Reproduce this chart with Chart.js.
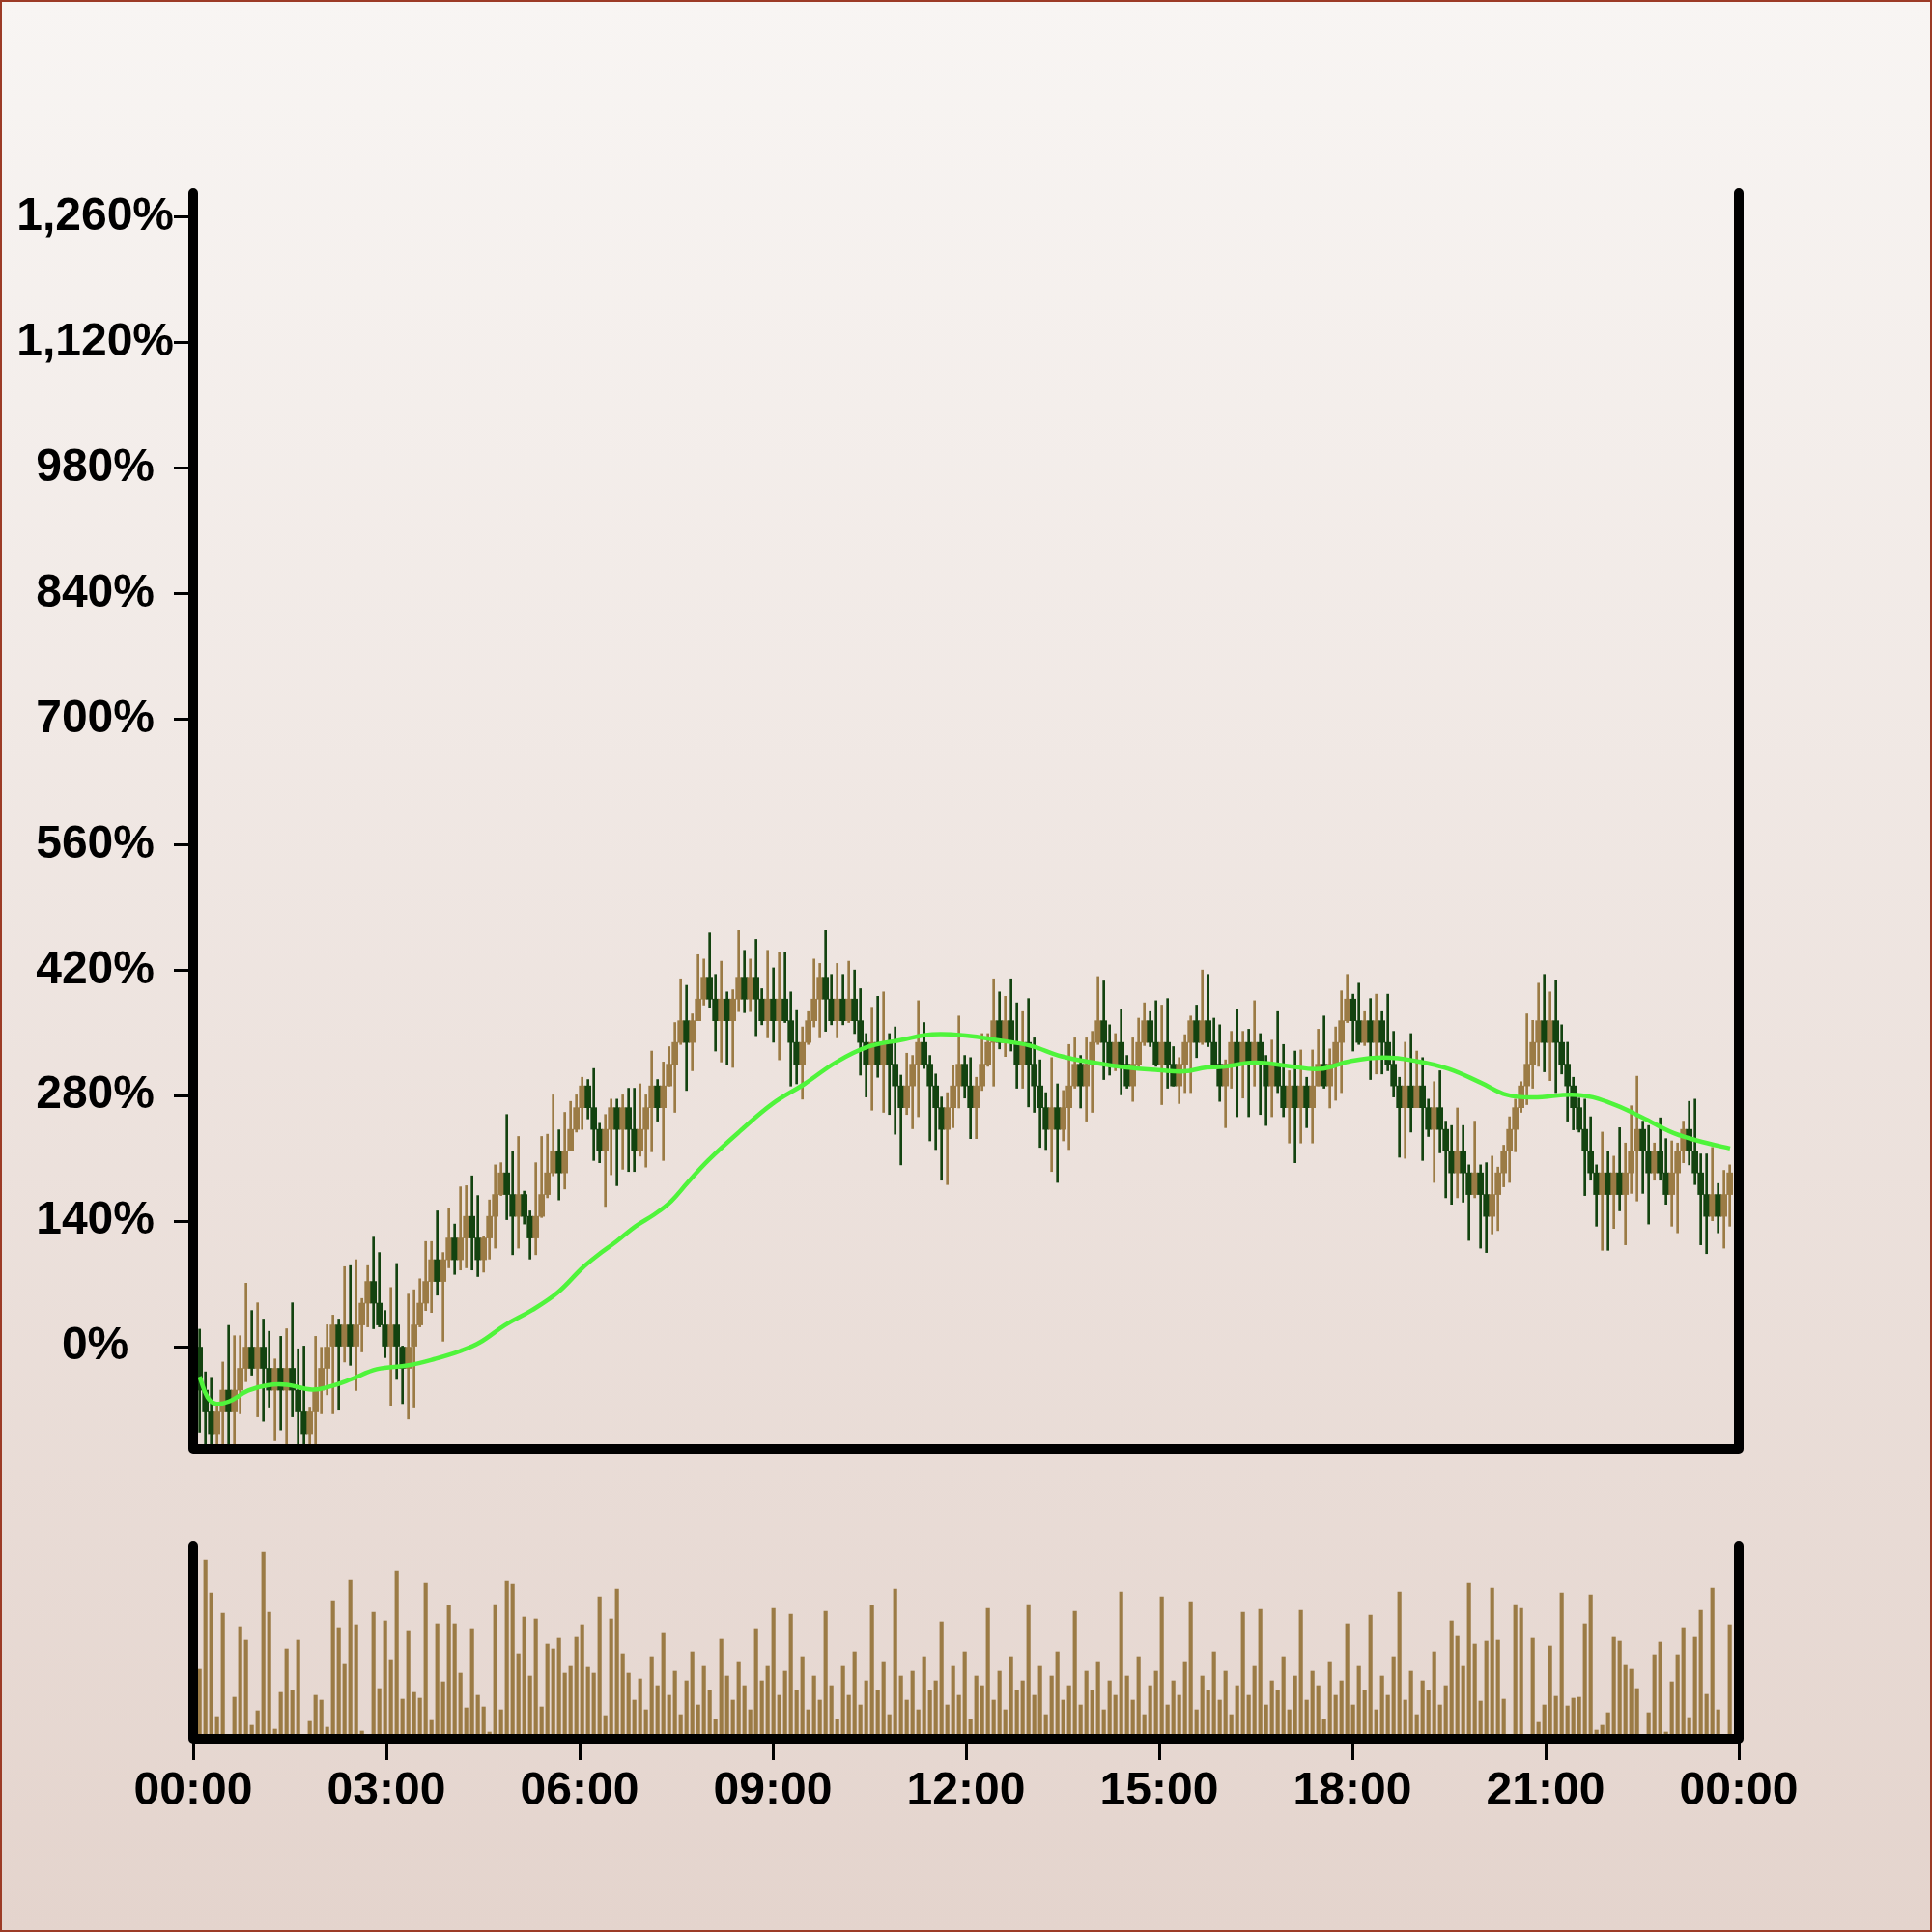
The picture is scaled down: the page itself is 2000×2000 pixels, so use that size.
<!DOCTYPE html>
<html>
<head>
<meta charset="utf-8">
<script src="https://cdn.jsdelivr.net/npm/chart.js@4.4.1/dist/chart.umd.min.js"></script>
<style>
  html, body { margin: 0; padding: 0; }
  #page {
    position: relative; width: 2000px; height: 2000px; overflow: hidden;
    background: linear-gradient(to bottom, #f8f5f3 0%, #e4d4cd 100%);
  }
  #edge {
    position: absolute; left: 0; top: 0; width: 2000px; height: 2000px;
    box-sizing: border-box; border: 2px solid #9c3b26; pointer-events: none;
  }
  #price { position: absolute; left: 0; top: 0; }
  #volume { position: absolute; left: 0; top: 1560px; }
</style>
</head>
<body>
<div id="page">
  <canvas id="price" width="2000" height="1560"></canvas>
  <canvas id="volume" width="2000" height="440"></canvas>
  <div id="edge"></div>
</div>
<script>
// Intraday candles (percent change from the opening price), one bar every 5.4 minutes
const opens = [0,-48.5,-72.7,-97.0,-72.7,-48.5,-72.7,-48.5,-24.2,0,
-24.2,0,-24.2,-48.5,-24.2,-48.5,-24.2,-48.5,-72.7,-97.0,
-72.7,-48.5,-24.2,0,24.2,0,24.2,0,24.2,48.5,
72.7,48.5,24.2,0,24.2,0,-24.2,0,24.2,48.5,
72.7,97.0,72.7,97.0,121.2,97.0,121.2,145.4,121.2,97.0,
121.2,145.4,169.7,193.9,169.7,145.4,169.7,145.4,121.2,145.4,
169.7,193.9,218.2,193.9,218.2,242.4,266.6,290.9,266.6,242.4,
218.2,242.4,266.6,242.4,266.6,242.4,218.2,242.4,266.6,290.9,
266.6,290.9,315.1,339.4,363.6,339.4,363.6,387.8,412.1,387.8,
363.6,387.8,363.6,387.8,412.1,387.8,412.1,387.8,363.6,387.8,
363.6,387.8,363.6,339.4,315.1,339.4,363.6,387.8,412.1,387.8,
363.6,387.8,363.6,387.8,363.6,339.4,315.1,339.4,315.1,339.4,
315.1,290.9,266.6,290.9,315.1,339.4,315.1,290.9,266.6,242.4,
266.6,290.9,315.1,290.9,266.6,290.9,315.1,339.4,363.6,339.4,
363.6,339.4,315.1,339.4,315.1,290.9,266.6,242.4,266.6,242.4,
266.6,290.9,315.1,290.9,315.1,339.4,363.6,339.4,315.1,339.4,
315.1,290.9,315.1,339.4,363.6,339.4,315.1,339.4,315.1,290.9,
315.1,339.4,363.6,339.4,363.6,339.4,315.1,290.9,315.1,339.4,
315.1,339.4,315.1,339.4,315.1,290.9,315.1,290.9,266.6,290.9,
266.6,290.9,266.6,290.9,315.1,290.9,315.1,339.4,363.6,387.8,
363.6,339.4,363.6,339.4,363.6,339.4,315.1,290.9,266.6,290.9,
266.6,290.9,266.6,242.4,266.6,242.4,218.2,193.9,218.2,193.9,
169.7,193.9,169.7,145.4,169.7,193.9,218.2,242.4,266.6,290.9,
315.1,339.4,363.6,339.4,363.6,339.4,315.1,290.9,266.6,242.4,
218.2,193.9,169.7,193.9,169.7,193.9,169.7,193.9,218.2,242.4,
218.2,193.9,218.2,193.9,169.7,193.9,218.2,242.4,218.2,193.9,
169.7,145.4,169.7,145.4,169.7];

const closes = [-48.5,-72.7,-97.0,-72.7,-48.5,-72.7,-48.5,-24.2,0,-24.2,
0,-24.2,-48.5,-24.2,-48.5,-24.2,-48.5,-72.7,-97.0,-72.7,
-48.5,-24.2,0,24.2,0,24.2,0,24.2,48.5,72.7,
48.5,24.2,0,24.2,0,-24.2,0,24.2,48.5,72.7,
97.0,72.7,97.0,121.2,97.0,121.2,145.4,121.2,97.0,121.2,
145.4,169.7,193.9,169.7,145.4,169.7,145.4,121.2,145.4,169.7,
193.9,218.2,193.9,218.2,242.4,266.6,290.9,266.6,242.4,218.2,
242.4,266.6,242.4,266.6,242.4,218.2,242.4,266.6,290.9,266.6,
290.9,315.1,339.4,363.6,339.4,363.6,387.8,412.1,387.8,363.6,
387.8,363.6,387.8,412.1,387.8,412.1,387.8,363.6,387.8,363.6,
387.8,363.6,339.4,315.1,339.4,363.6,387.8,412.1,387.8,363.6,
387.8,363.6,387.8,363.6,339.4,315.1,339.4,315.1,339.4,315.1,
290.9,266.6,290.9,315.1,339.4,315.1,290.9,266.6,242.4,266.6,
290.9,315.1,290.9,266.6,290.9,315.1,339.4,363.6,339.4,363.6,
339.4,315.1,339.4,315.1,290.9,266.6,242.4,266.6,242.4,266.6,
290.9,315.1,290.9,315.1,339.4,363.6,339.4,315.1,339.4,315.1,
290.9,315.1,339.4,363.6,339.4,315.1,339.4,315.1,290.9,315.1,
339.4,363.6,339.4,363.6,339.4,315.1,290.9,315.1,339.4,315.1,
339.4,315.1,339.4,315.1,290.9,315.1,290.9,266.6,290.9,266.6,
290.9,266.6,290.9,315.1,290.9,315.1,339.4,363.6,387.8,363.6,
339.4,363.6,339.4,363.6,339.4,315.1,290.9,266.6,290.9,266.6,
290.9,266.6,242.4,266.6,242.4,218.2,193.9,218.2,193.9,169.7,
193.9,169.7,145.4,169.7,193.9,218.2,242.4,266.6,290.9,315.1,
339.4,363.6,339.4,363.6,339.4,315.1,290.9,266.6,242.4,218.2,
193.9,169.7,193.9,169.7,193.9,169.7,193.9,218.2,242.4,218.2,
193.9,218.2,193.9,169.7,193.9,218.2,242.4,218.2,193.9,169.7,
145.4,169.7,145.4,169.7,193.9];

const highs = [19.5,-28.1,-34.2,-63.5,-17.1,23.7,12.2,12.2,70.8,40.3,
48.9,30.8,17.1,-13.7,11.5,20.0,48.9,-2.4,0.7,-68.4,
11.5,-0.7,24.4,35.2,30.8,89.2,90.4,97.0,53.7,90.4,
122.2,105.0,40.3,66.0,92.8,0.7,58.6,63.5,75.7,117.3,
117.3,151.5,105.0,153.9,136.8,178.3,179.6,190.6,168.6,123.4,
163.7,202.8,205.2,259.0,217.4,234.5,173.5,151.5,205.2,234.5,
237.0,280.9,241.9,261.4,273.6,280.9,300.5,298.0,310.3,249.2,
259.0,276.1,276.1,280.9,288.3,288.3,293.2,280.9,329.8,298.0,
317.6,334.7,361.6,410.4,403.1,371.3,437.3,432.4,461.7,415.3,
430.0,395.8,398.2,464.2,442.2,432.4,454.4,399.4,442.2,422.6,
439.7,439.7,395.8,375.0,356.7,373.8,432.4,427.5,464.2,415.3,
427.5,415.3,430.0,420.2,399.4,349.3,378.7,390.9,395.8,349.3,
356.7,302.9,327.4,324.9,386.0,361.6,324.9,304.2,278.5,283.4,
313.9,368.9,324.9,322.5,300.5,349.3,349.3,410.4,395.8,390.9,
410.4,383.6,373.8,388.4,344.5,320.0,283.4,322.5,293.2,285.8,
337.1,344.5,324.9,344.5,351.8,412.9,408.0,359.1,349.3,376.2,
324.9,344.5,366.5,383.6,373.8,386.0,381.1,388.4,334.7,322.5,
348.1,368.9,381.1,420.2,415.3,366.5,359.1,320.0,351.8,376.2,
351.8,354.2,386.0,349.3,324.9,342.0,373.8,337.1,307.8,329.8,
331.0,300.5,331.0,354.2,368.9,332.2,356.7,397.0,415.3,393.3,
405.5,373.8,388.4,393.3,373.8,393.3,351.8,300.5,339.6,349.3,
329.8,322.5,276.1,295.6,307.8,251.6,246.7,266.3,246.7,202.8,
251.6,202.8,205.2,212.5,200.3,224.8,256.5,276.1,295.6,371.3,
364.0,405.5,415.3,395.8,409.2,359.1,339.6,300.5,277.3,276.1,
256.5,202.8,239.4,217.4,212.5,244.3,227.2,268.7,301.7,251.6,
246.7,227.2,255.3,232.1,229.6,227.2,251.6,273.6,276.1,215.0,
215.0,222.3,182.0,196.7,202.8];

const lows = [-95.3,-112.4,-112.4,-112.4,-112.4,-112.4,-112.4,-74.8,-39.1,-31.8,
-78.2,-83.1,-68.4,-105.0,-92.8,-112.4,-78.2,-112.4,-112.4,-112.4,
-112.4,-74.8,-53.7,-74.8,-70.8,-17.1,-20.8,-48.9,-5.9,22.0,
20.0,22.0,-12.2,-66.0,-36.6,-63.5,-80.6,-68.4,22.0,40.3,
38.1,57.4,6.1,87.9,80.6,85.5,87.9,85.5,78.2,83.1,
97.7,109.9,168.6,141.7,102.6,109.9,136.8,97.7,102.6,144.1,
166.1,190.6,163.7,175.9,218.2,239.4,242.4,254.1,207.7,205.2,
156.4,191.8,179.6,197.9,195.4,195.4,212.5,200.3,217.4,251.6,
207.7,290.7,261.4,337.1,285.8,307.8,363.6,381.1,378.7,329.8,
317.6,315.1,311.5,373.8,372.6,373.8,346.9,359.1,344.5,339.6,
320.0,361.6,290.7,293.2,276.1,337.1,356.7,344.5,351.8,359.1,
344.5,359.1,361.6,349.3,302.9,278.5,263.8,300.5,261.4,259.0,
237.0,202.8,259.0,243.1,256.5,310.3,229.6,219.9,185.7,180.8,
244.3,266.3,277.3,232.1,232.1,285.8,312.7,290.7,332.2,323.7,
329.8,288.3,288.3,267.5,261.4,222.3,219.9,195.4,183.2,229.6,
219.9,288.3,266.3,251.6,261.4,337.1,298.0,302.9,307.8,280.9,
288.3,273.6,310.3,335.9,334.7,312.7,270.0,288.3,290.7,271.2,
283.4,283.4,322.5,337.1,334.7,311.5,273.6,244.3,288.3,256.5,
277.3,256.5,290.7,259.0,246.7,256.5,283.4,256.5,227.2,205.2,
227.2,244.3,227.2,290.9,288.3,266.3,274.8,283.4,361.6,329.8,
337.1,335.9,298.0,304.2,304.2,307.8,278.5,211.3,210.1,239.4,
266.6,207.7,234.5,183.2,216.2,166.1,158.8,166.1,161.2,118.5,
166.1,109.9,105.0,125.8,129.5,178.3,183.2,217.4,261.4,270.0,
288.3,312.7,306.6,296.8,283.4,304.2,251.6,241.9,239.4,168.6,
185.7,134.4,107.5,107.5,131.9,151.5,113.6,171.0,162.5,171.0,
136.8,185.7,185.7,158.8,134.4,127.0,205.2,202.8,180.8,113.6,
103.8,140.5,127.0,109.9,134.4];

const volumes = [72,185,151,23,130,0,43,116,102,14,
29,193,131,10,48,93,50,102,0,18,
45,40,12,143,115,77,164,118,8,0,
131,52,122,82,174,41,112,48,42,161,
19,119,59,138,119,68,32,114,45,33,
7,139,30,163,160,88,126,65,124,33,
98,93,104,68,75,105,118,74,68,147,
24,124,155,88,68,40,62,30,85,55,
110,45,70,25,60,90,35,75,50,20,
103,65,40,80,55,30,114,60,75,135,
45,70,129,50,85,30,65,40,132,55,
20,75,45,90,35,60,138,50,80,25,
155,65,40,70,30,85,50,60,121,35,
75,45,90,20,65,55,135,40,70,30,
85,50,60,139,45,75,25,65,90,40,
55,132,35,70,50,80,30,60,45,152,
65,40,85,25,55,70,147,35,60,45,
80,142,30,65,50,90,40,70,25,55,
131,45,75,134,35,60,50,85,30,65,
133,40,70,55,20,80,45,60,119,35,
75,50,128,30,65,45,85,152,40,70,
25,60,50,90,35,55,122,106,75,161,
98,39,101,156,102,41,0,139,135,0,
104,17,35,96,44,151,34,42,43,119,
149,9,14,27,105,101,76,72,52,0,
27,87,100,7,59,87,115,22,105,133,
46,156,30,0,118];

// Moving-average line, sampled along the session (minutes after midnight)
const maTimes = [6.0,13.2,20.7,33.3,51.3,69.3,87.3,110.7,128.7,146.7,171,200.7,225,249.3,267.3,290.7,315,339.3,362.7,376.2,394.2,412.2,430.2,445.5,460.8,479.7,508.5,540,569.7,599.4,629.1,658.8,688.5,721.8,748.8,779.4,809.1,838.8,869.4,899.1,923.4,944.1,959.4,989.1,1019.7,1049.4,1079.1,1109.7,1139.4,1170,1199.7,1224,1248.3,1289.7,1320.3,1350,1379.7,1410.3,1431.9];
const maValues = [-33.5,-56.2,-63.5,-61.1,-48.9,-43.0,-42.5,-47.9,-44.0,-36.6,-25.2,-20.8,-13.7,-4.6,4.9,24.2,40.3,60.1,87.9,101.4,117.3,134.4,148.0,162.5,183.2,207.7,239.4,271.2,293.2,317.6,334.7,342.0,348.4,346.9,342.0,335.9,323.9,316.9,311.5,308.6,307.1,311.5,312.2,316.9,313.2,309.8,318.8,322.5,318.6,309.8,294.4,280.9,278.0,280.9,271.9,255.8,238.0,227.2,221.1];

const yTicks = [0,140,280,420,560,700,840,980,1120,1260];
const xTicks = [0,180,360,540,720,900,1080,1260,1440];

// candle timestamps in minutes after midnight
const times = closes.map((_, i) => 6 + 5.4 * i);

const UP = '#9b7b45';
const DOWN = '#134310';
const MA_COLOR = '#4ff43b';
const FONT = "'Liberation Sans', Arial, Helvetica, sans-serif";

const candleColor = c => (closes[c.dataIndex] >= opens[c.dataIndex] ? UP : DOWN);
const hhmm = m => {
  const t = ((m % 1440) + 1440) % 1440;
  const h = Math.floor(t / 60), mm = Math.round(t % 60);
  return String(h).padStart(2, '0') + ':' + String(mm).padStart(2, '0');
};

// thick open-topped frame with rounded ends around each plot area
const frame = {
  id: 'frame',
  afterDatasetsDraw(chart) {
    const { ctx, chartArea: a } = chart;
    ctx.save();
    ctx.strokeStyle = '#000';
    ctx.lineWidth = 10;
    ctx.lineCap = 'round';
    ctx.lineJoin = 'round';
    ctx.beginPath();
    ctx.moveTo(a.left, a.top);
    ctx.lineTo(a.left, a.bottom);
    ctx.lineTo(a.right, a.bottom);
    ctx.lineTo(a.right, a.top);
    ctx.stroke();
    ctx.restore();
  }
};

const tickFont = { family: FONT, size: 48, weight: 'bold' };

new Chart(document.getElementById('price'), {
  type: 'bar',
  data: {
    datasets: [
      {
        type: 'line',
        data: maTimes.map((t, i) => ({ x: t, y: maValues[i] })),
        borderColor: MA_COLOR, borderWidth: 4.5, pointRadius: 0, tension: 0.4, order: 0
      },
      {
        data: times.map((t, i) => ({ x: t, y: [opens[i], closes[i]] })),
        backgroundColor: candleColor, borderWidth: 0, barThickness: 6, grouped: false, order: 1
      },
      {
        data: times.map((t, i) => ({ x: t, y: [lows[i], highs[i]] })),
        backgroundColor: candleColor, borderWidth: 0, barThickness: 2, grouped: false, order: 2
      }
    ]
  },
  options: {
    responsive: false, animation: false, devicePixelRatio: 1,
    layout: { padding: { left: 0, right: 200, top: 200, bottom: 60 } },
    plugins: { legend: { display: false }, tooltip: { enabled: false } },
    scales: {
      x: { type: 'linear', min: 0, max: 1440, offset: false, grid: { offset: false }, display: false },
      y: {
        type: 'linear', position: 'left', min: -114.2, max: 1286.9,
        afterFit(s) { s.width = 200; },
        afterBuildTicks(s) { s.ticks = yTicks.map(v => ({ value: v })); },
        grid: { drawOnChartArea: false, drawTicks: true, tickLength: 20, tickWidth: 3, tickColor: '#000' },
        border: { display: false },
        ticks: {
          crossAlign: 'center', padding: 0, color: '#000', font: tickFont,
          callback: v => v.toLocaleString('en-US') + '%'
        }
      }
    }
  },
  plugins: [frame]
});

new Chart(document.getElementById('volume'), {
  type: 'bar',
  data: {
    datasets: [{
      data: times.map((t, i) => ({ x: t, y: volumes[i] })),
      backgroundColor: UP, borderWidth: 0, barThickness: 3.5, grouped: false
    }]
  },
  options: {
    responsive: false, animation: false, devicePixelRatio: 1,
    layout: { padding: { left: 200, right: 200, top: 40, bottom: 0 } },
    plugins: { legend: { display: false }, tooltip: { enabled: false } },
    scales: {
      x: {
        type: 'linear', position: 'bottom', min: 0, max: 1440, offset: false,
        afterFit(s) { s.height = 200; },
        afterBuildTicks(s) { s.ticks = xTicks.map(v => ({ value: v })); },
        grid: { offset: false, drawOnChartArea: false, drawTicks: true, tickLength: 22, tickWidth: 3, tickColor: '#000' },
        border: { display: false },
        ticks: { autoSkip: false, maxRotation: 0, padding: 4, color: '#000', font: tickFont, callback: v => hhmm(v) }
      },
      y: { min: 0, max: 200, display: false }
    }
  },
  plugins: [frame]
});
</script>
</body>
</html>
